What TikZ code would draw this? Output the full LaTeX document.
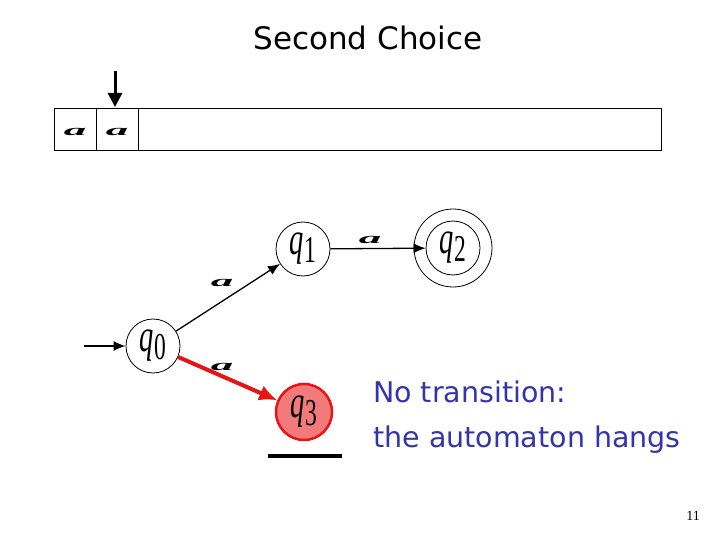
\documentclass[tikz,border=0pt]{standalone}
\usepackage{fontspec}
\setmainfont{Liberation Serif}
\newfontfamily\comicfont{DejaVu Sans}
\usetikzlibrary{arrows.meta}
\definecolor{txtblue}{RGB}{51,51,170}
\definecolor{hangred}{RGB}{230,20,20}
\definecolor{hangfill}{RGB}{242,122,122}
\newcommand\qlab[1]{\scalebox{0.62}[1]{\fontsize{46}{46}\selectfont\textit{q}\raisebox{-8pt}{\fontsize{38}{38}\selectfont #1}}}
\newcommand\alab{\scalebox{2.5}[0.85]{\fontsize{18}{18}\selectfont\textbf{\textit{a}}}}
\begin{document}
\begin{tikzpicture}[x=1pt,y=-1pt,
  stnode/.style={circle,draw,line width=0.8pt,minimum size=54pt,inner sep=0pt},
  edge/.style={-{Latex[length=12pt,width=10pt]},line width=1.3pt},
  lab/.style={inner sep=0pt}]
\useasboundingbox (0,0) rectangle (720,540);
% title
\node[font=\comicfont\fontsize{31}{31}\selectfont] (title) at (368,38) {Second Choice};
% tape
\draw[line width=0.8pt] (54,108) rectangle (661,150);
\draw[line width=0.8pt] (96,108) -- (96,150) (138,108) -- (138,150);
\node[lab] (t1) at (75,132) {\alab};
\node[lab] (t2) at (117,132) {\alab};
\coordinate (hs) at (115,71);
\coordinate (he) at (115,107);
\draw[-{Triangle[length=14pt,width=14pt]},line width=3pt] (hs) -- (he);
% states
\node[stnode] (q0) at (153,346) {\qlab{0}};
\node[stnode] (q1) at (303,249) {\qlab{1}};
\node[stnode] (q2) at (453,248) {\qlab{2}};
\draw[line width=0.8pt] (q2) circle (39pt);
\node[stnode,draw=hangred,fill=hangfill,line width=2.5pt,minimum size=56pt] (q3) at (304,412) {\qlab{3}};
\coordinate (bar1) at (268,456);
\coordinate (bar2) at (342,456);
\draw[line width=4pt] (bar1) -- (bar2);
% edges
\coordinate (init) at (84,346);
\draw[edge] (init) -- (q0);
\draw[edge] (q0) -- (q1);
\draw[edge] (q1) -- (q2);
\draw[edge,draw=hangred,line width=4pt,-{Latex[length=18pt,width=16pt]}] (q0) -- (q3);
\node[lab] (a01) at (222,283) {\alab};
\node[lab] (a12) at (370,240) {\alab};
\node[lab] (a03) at (222,367) {\alab};
% text
\node[anchor=base west,inner sep=0pt,text=txtblue,font=\comicfont\fontsize{28.5}{28.5}\selectfont] (t1l) at (373,402) {No transition:};
\node[anchor=base west,inner sep=0pt,text=txtblue,font=\comicfont\fontsize{28.5}{28.5}\selectfont] (t2l) at (373,447) {the automaton hangs};
\node[anchor=base east,inner sep=0pt,font=\fontsize{14}{14}\selectfont] (pg) at (700,520) {11};
\end{tikzpicture}
\end{document}
